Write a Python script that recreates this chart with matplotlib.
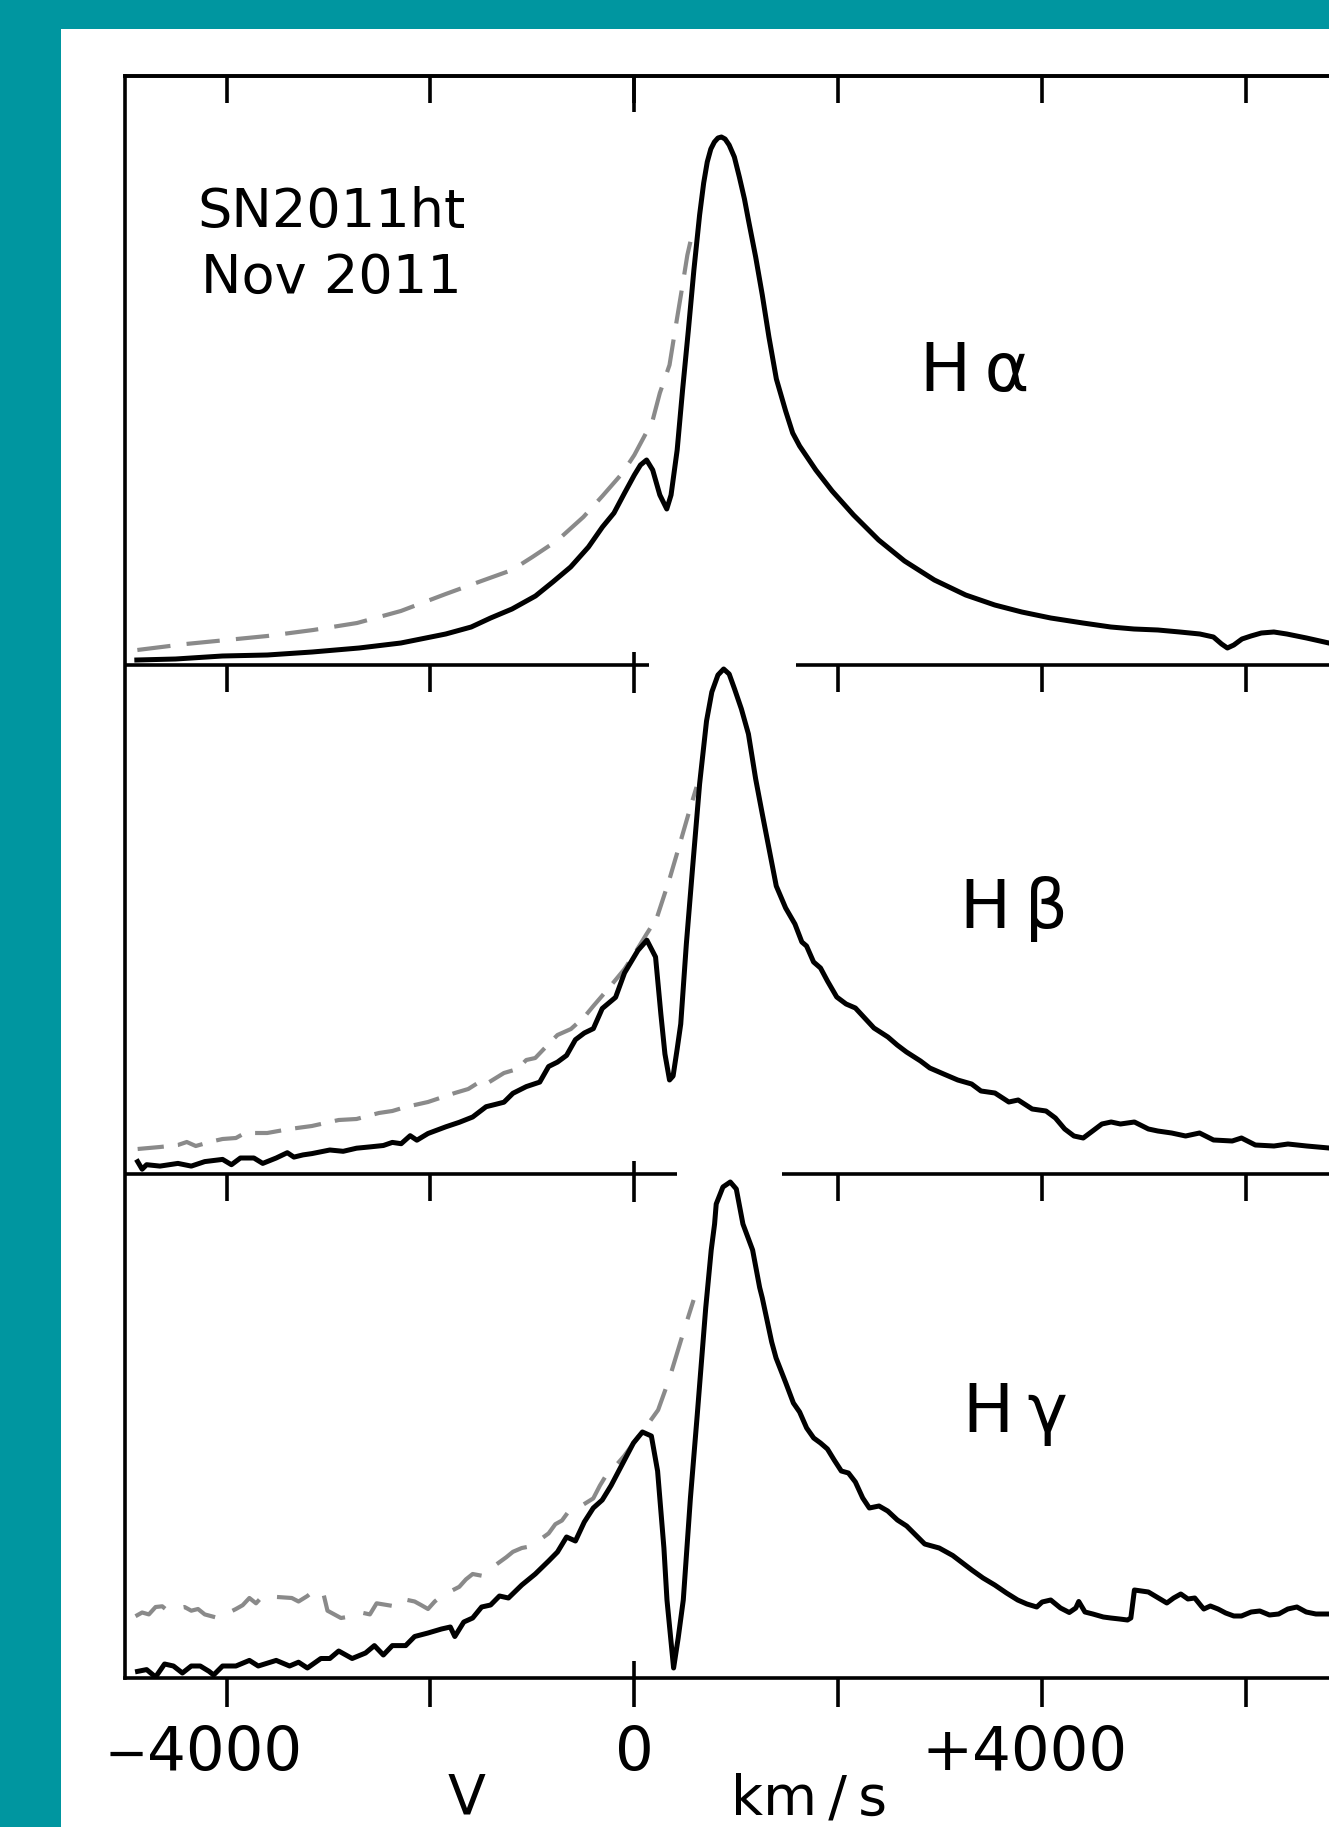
import numpy as np
import matplotlib.pyplot as plt
from matplotlib.patches import Rectangle

# velocity (km/s) and relative flux
HA_V = [-4880, -4500, -4040, -3600, -3160, -2700, -2290, -1850, -1600, -1410,
        -1200, -970, -800, -625, -450, -313, -200, -96, 0, 60,
        120, 180, 250, 318, 360, 420, 473, 530, 584, 640,
        680, 715, 750, 785, 820, 854, 890, 930, 981, 1030,
        1080, 1119, 1190, 1255, 1320, 1393, 1484, 1553, 1621, 1780,
        1940, 2150, 2396, 2650, 2943, 3250, 3535, 3800, 4084, 4400,
        4673, 4900, 5135, 5350, 5547, 5680, 5760, 5817, 5880, 5960,
        6048, 6150, 6273, 6400, 6593, 6812]
HA_F = [0.05, 0.06, 0.09, 0.10, 0.13, 0.17, 0.22, 0.31, 0.38, 0.47,
        0.56, 0.69, 0.83, 0.98, 1.18, 1.38, 1.52, 1.72, 1.90, 2.00,
        2.05, 1.95, 1.70, 1.56, 1.70, 2.15, 2.75, 3.35, 3.95, 4.50,
        4.82, 5.03, 5.16, 5.23, 5.27, 5.28, 5.26, 5.20, 5.08, 4.88,
        4.66, 4.45, 4.08, 3.70, 3.28, 2.86, 2.54, 2.32, 2.19, 1.95,
        1.74, 1.50, 1.25, 1.04, 0.85, 0.70, 0.60, 0.53, 0.47, 0.42,
        0.38, 0.36, 0.35, 0.33, 0.31, 0.28, 0.21, 0.17, 0.20, 0.26,
        0.29, 0.32, 0.33, 0.31, 0.27, 0.22]

HA_DV = [-4875, -4400, -4000, -3600, -3150, -2720, -2290, -1850, -1500, -1200,
         -1000, -750, -500, -313, -116, 0, 115, 170, 250, 345,
         400, 473, 520, 565]
HA_DF = [0.15, 0.21, 0.25, 0.29, 0.35, 0.42, 0.54, 0.71, 0.84, 0.95,
         1.08, 1.25, 1.48, 1.69, 1.92, 2.10, 2.32, 2.41, 2.72, 3.00,
         3.35, 3.80, 4.10, 4.30]

HB_V = [-4872, -4828, -4784, -4653, -4477, -4346, -4214, -4039, -3952, -3864,
        -3732, -3645, -3513, -3404, -3339, -3250, -3163, -2987, -2856, -2725,
        -2594, -2462, -2374, -2287, -2199, -2133, -2024, -1849, -1717, -1586,
        -1454, -1367, -1279, -1191, -1060, -928, -841, -754, -665, -578,
        -491, -402, -315, -184, -96, 35, 123,
        208, 260, 300, 345, 380, 420, 455, 510, 571, 640,
        708, 760, 820, 876, 930, 983, 1050, 1119, 1190, 1255,
        1392, 1484, 1575, 1643, 1689, 1758, 1826, 1894, 1985, 2077,
        2168, 2259, 2350, 2396, 2487, 2578, 2669, 2807, 2898, 3034,
        3172, 3308, 3400, 3537, 3673, 3765, 3902, 4038, 4130, 4221,
        4312, 4403, 4495, 4586, 4677, 4768, 4905, 5042, 5134, 5270,
        5407, 5544, 5681, 5864, 5955, 6091, 6274, 6411, 6594, 6813]
HB_F = [0.124, 0.048, 0.093, 0.079, 0.106, 0.079, 0.124, 0.146, 0.093, 0.160,
        0.160, 0.106, 0.160, 0.213, 0.169, 0.191, 0.204, 0.240, 0.227, 0.258,
        0.271, 0.285, 0.316, 0.303, 0.383, 0.338, 0.405, 0.472, 0.517, 0.570,
        0.673, 0.695, 0.718, 0.807, 0.874, 0.919, 1.075, 1.119, 1.186, 1.343,
        1.410, 1.454, 1.655, 1.767, 2.012, 2.236, 2.338,
        2.17, 1.60, 1.20, 0.94, 0.98, 1.25, 1.50, 2.30, 3.06, 3.90,
        4.53, 4.82, 4.99, 5.05, 5.00, 4.85, 4.65, 4.40, 3.95, 3.60,
        2.88, 2.66, 2.50, 2.32, 2.28, 2.12, 2.06, 1.93, 1.77, 1.70,
        1.66, 1.56, 1.46, 1.43, 1.37, 1.29, 1.22, 1.13, 1.06, 1.00,
        0.94, 0.90, 0.83, 0.81, 0.72, 0.74, 0.65, 0.63, 0.56, 0.45,
        0.38, 0.36, 0.43, 0.50, 0.52, 0.50, 0.52, 0.45, 0.43, 0.41,
        0.38, 0.41, 0.34, 0.33, 0.36, 0.29, 0.28, 0.30, 0.28, 0.26]

HB_DV = [-4872, -4653, -4477, -4390, -4302, -4127, -4039, -3908, -3820, -3601,
         -3382, -3163, -2900, -2725, -2506, -2374, -2243, -2024, -1761, -1629,
         -1520, -1454, -1279, -1147, -1060, -972, -841, -754, -622, -491,
         -402, -250, -96, 0, 120, 220, 345, 460, 545, 610]
HB_DF = [0.25, 0.27, 0.29, 0.32, 0.28, 0.33, 0.35, 0.36, 0.41, 0.41,
         0.45, 0.48, 0.54, 0.55, 0.61, 0.63, 0.67, 0.72, 0.81, 0.85,
         0.92, 0.90, 1.01, 1.05, 1.14, 1.16, 1.30, 1.39, 1.45, 1.57,
         1.68, 1.86, 2.05, 2.20, 2.40, 2.56, 2.95, 3.35, 3.65, 3.87]

HG_V = [-4873, -4784, -4696, -4608, -4521, -4433, -4346, -4258, -4171, -4127,
        -4039, -3908, -3776, -3689, -3513, -3382, -3294, -3207, -3075, -2987,
        -2900, -2768, -2637, -2550, -2462, -2374, -2243, -2155, -2024, -1892,
        -1805, -1761, -1673, -1586, -1498, -1410, -1323, -1235, -1104, -972,
        -841, -754, -665, -578, -491, -403, -315, -228, -96, -9,
        79, 167,
        228, 290, 320, 385, 430, 480, 550, 616, 700, 754,
        787, 803, 869, 941, 1000, 1065, 1160, 1229, 1255, 1347,
        1390, 1484, 1560, 1621, 1690, 1759, 1826, 1894, 1960, 2030,
        2100, 2168, 2240, 2305, 2400, 2485, 2580, 2671, 2760, 2848,
        2990, 3123, 3220, 3310, 3420, 3535, 3650, 3760, 3850, 3947,
        4000, 4084, 4180, 4266, 4330, 4359, 4420, 4497, 4600, 4673,
        4760, 4837, 4870, 4905, 5042, 5140, 5223, 5290, 5360, 5430,
        5497, 5560, 5586, 5650, 5725, 5800, 5880, 5955, 6050, 6135,
        6230, 6320, 6410, 6499, 6590, 6685, 6812]
HG_F = [0.066, 0.084, 0.01, 0.14, 0.12, 0.05, 0.12, 0.12, 0.066, 0.03,
        0.12, 0.12, 0.176, 0.12, 0.176, 0.12, 0.158, 0.10, 0.195, 0.195,
        0.27, 0.195, 0.25, 0.324, 0.23, 0.324, 0.324, 0.415, 0.45, 0.49,
        0.51, 0.415, 0.56, 0.60, 0.71, 0.73, 0.82, 0.80, 0.93, 1.04,
        1.17, 1.26, 1.41, 1.37, 1.56, 1.70, 1.78, 1.925, 2.18, 2.35,
        2.46, 2.42,
        2.07, 1.30, 0.78, 0.10, 0.40, 0.78, 1.80, 2.62, 3.70, 4.28,
        4.54, 4.74, 4.91, 4.96, 4.89, 4.54, 4.28, 3.905, 3.80, 3.36,
        3.20, 2.955, 2.75, 2.66, 2.50, 2.40, 2.35, 2.29, 2.18, 2.07,
        2.05, 1.96, 1.80, 1.70, 1.72, 1.67, 1.58, 1.52, 1.43, 1.34,
        1.30, 1.225, 1.15, 1.08, 1.00, 0.93, 0.85, 0.78, 0.74, 0.71,
        0.76, 0.78, 0.70, 0.655, 0.70, 0.765, 0.66, 0.64, 0.61, 0.60,
        0.59, 0.58, 0.60, 0.88, 0.86, 0.80, 0.75, 0.80, 0.84, 0.79,
        0.80, 0.72, 0.69, 0.72, 0.69, 0.65, 0.62, 0.62, 0.66, 0.67,
        0.63, 0.64, 0.69, 0.71, 0.66, 0.64, 0.64]

HG_DV = [-4893, -4828, -4762, -4696, -4631, -4587, -4412, -4346, -4280, -4214,
         -4149, -4083, -3908, -3842, -3776, -3711, -3645, -3360, -3294, -3207,
         -3141, -3053, -3010, -2878, -2768, -2681, -2594, -2528, -2308, -2243,
         -2155, -2089, -2024, -1958, -1892, -1717, -1652, -1586, -1498, -1432,
         -1257, -1191, -1104, -1016, -841, -775, -710, -644, -578, -403,
         -338, -272, -228, -100, 0, 120, 233, 342, 473, 581]
HG_DF = [0.618, 0.655, 0.636, 0.71, 0.717, 0.68, 0.71, 0.673, 0.69, 0.636,
         0.618, 0.60, 0.69, 0.728, 0.80, 0.747, 0.82, 0.80, 0.765, 0.82,
         0.876, 0.857, 0.673, 0.60, 0.618, 0.655, 0.636, 0.747, 0.71, 0.784,
         0.765, 0.728, 0.69, 0.765, 0.82, 0.912, 0.986, 1.04, 1.023, 1.078,
         1.207, 1.262, 1.30, 1.317, 1.446, 1.538, 1.575, 1.667, 1.685, 1.796,
         1.924, 2.035, 2.07, 2.22, 2.36, 2.52, 2.68, 2.99, 3.43, 3.78]

TICKS = [-4000, -2000, 0, 2000, 4000, 6000]
LINE_LABELS = ['H\u2009\u03b1', 'H\u2009\u03b2', 'H\u2009\u03b3']

TEAL = '#0096A0'
GREY = '#8a8a8a'
W, H = 1329, 1827

# panel layout (y in units of 100 px, bottom of lowest panel = 0)
Y_TOP = 16.02
BASES = [10.13, 5.04, 0.0]
GAPS = [(142, 1589), (417, 1451)]   # where the peaks break the divider lines
LW_AX = 2.6

fig = plt.figure(figsize=(W / 100, H / 100), dpi=100, facecolor=TEAL)
bg = Rectangle((61 / W, 0), 1 - 61 / W, 1 - 29 / H, transform=fig.transFigure,
               facecolor='white', edgecolor='none', zorder=-10)
fig.patches.append(bg)

ax = fig.add_axes([124.6 / W, (H - 1678) / H, (1348 - 124.6) / W, (1678 - 76) / H])
ax.set_xlim(-5000, 7000)
ax.set_ylim(0, Y_TOP)
ax.patch.set_visible(False)
ax.spines['right'].set_visible(False)
for s in ['left', 'top', 'bottom']:
    ax.spines[s].set_linewidth(LW_AX)
ax.set_yticks([])
ax.set_xticks(TICKS)
ax.tick_params(axis='x', direction='out', length=21, width=LW_AX, labelbottom=False)

top = ax.secondary_xaxis('top')
top.set_xticks(TICKS)
top.tick_params(direction='in', length=19.5, width=LW_AX, labeltop=False)
top.spines['top'].set_linewidth(LW_AX)

tk = dict(color='black', lw=LW_AX, solid_capstyle='butt')
# longer zero ticks on top and bottom
ax.plot([0, 0], [Y_TOP - 0.36, Y_TOP], **tk)
ax.plot([0, 0], [0, 0.17], clip_on=False, **tk)

# divider lines between panels, with their own ticks
for base, (g0, g1) in zip(BASES[:2], GAPS):
    ax.plot([-5000, g0], [base, base], **tk)
    ax.plot([g1, 7000], [base, base], **tk)
    for t in TICKS:
        if t == 0:
            ax.plot([t, t], [base - 0.28, base + 0.13], **tk)
        else:
            ax.plot([t, t], [base - 0.27, base], **tk)

# spectra
spectra = [
    (HA_V, HA_F, HA_DV, HA_DF, (8.0, 3.9)),
    (HB_V, HB_F, HB_DV, HB_DF, (6.3, 3.4)),
    (HG_V, HG_F, HG_DV, HG_DF, (8.4, 4.6)),
]
for base, (v, f, dv, df, dash) in zip(BASES, spectra):
    ax.plot(dv, base + np.array(df), color=GREY, lw=3.0, dashes=dash, zorder=3)
    ax.plot(v, base + np.array(f), color='black', lw=3.6, zorder=4,
            solid_joinstyle='round')

# labels
ax.text(-2974, 14.51, 'SN2011ht', fontsize=39, ha='center', va='baseline')
ax.text(-2974, 13.85, 'Nov 2011', fontsize=39, ha='center', va='baseline')
for (x, y), lab in zip([(2799, 12.875), (3194, 7.50), (3220, 2.46)], LINE_LABELS):
    ax.text(x, y, lab, fontsize=49, ha='left', va='baseline')

# tick numbers (sign set apart from digits)
tl = dict(fontsize=44, ha='center', va='baseline', clip_on=False)
ax.text(-4015, -0.92, '4000', **tl)
ax.text(-4982, -0.92, '\u2212', fontsize=37, ha='center', va='baseline')
ax.text(0, -0.92, '0', **tl)
ax.text(4073, -0.92, '4000', **tl)
ax.text(3068, -0.92, '+', **tl)

ax.text(-1641, -1.36, 'V', fontsize=40, ha='center', va='baseline')
ax.text(1709, -1.36, 'km\u2009/\u2009s', fontsize=40, ha='center', va='baseline')

fig.savefig('out.png', dpi=100, facecolor=TEAL, bbox_inches=None)
